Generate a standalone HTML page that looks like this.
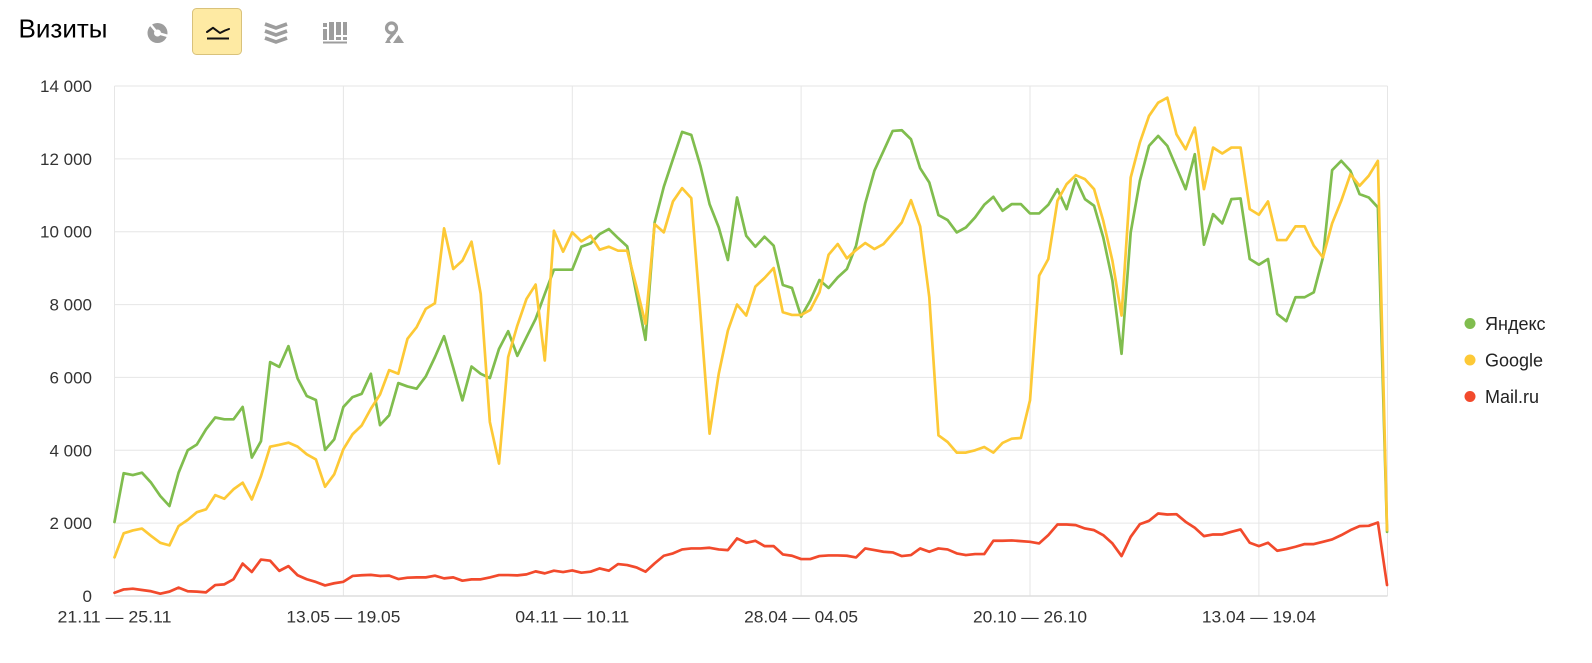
<!DOCTYPE html>
<html>
<head>
<meta charset="utf-8">
<style>
  html, body { margin:0; padding:0; background:#fff; }
  body { width:1592px; height:663px; overflow:hidden; }
  svg { display:block; font-family:"Liberation Sans", "DejaVu Sans", sans-serif; }
</style>
</head>
<body>
<svg width="1592" height="663" viewBox="0 0 1592 663" xmlns="http://www.w3.org/2000/svg">
  <rect x="0" y="0" width="1592" height="663" fill="#fff"/>

  <!-- Title -->
  <text x="18.5" y="37.7" font-size="26" fill="#000" textLength="89" lengthAdjust="spacingAndGlyphs">Визиты</text>

  <!-- Icon: pie -->
  <g>
    <circle cx="157.5" cy="33" r="10" fill="#9d9d9d"/>
    <circle cx="157.5" cy="33" r="3.5" fill="#fff"/>
    <line x1="157.5" y1="33" x2="150" y2="24" stroke="#fff" stroke-width="2.5"/>
    <line x1="157.5" y1="33" x2="168" y2="36" stroke="#fff" stroke-width="2.5"/>
  </g>

  <!-- Icon: active line chart button -->
  <rect x="192.5" y="8.5" width="49" height="46" rx="4" ry="4" fill="#feeaa3" stroke="#d9c27b" stroke-width="1"/>
  <polyline points="207,32 213,27.8 220,33 225,30.5 229,29" fill="none" stroke="#111" stroke-width="2" stroke-linejoin="round" stroke-linecap="round"/>
  <line x1="207" y1="38.5" x2="229" y2="38.5" stroke="#111" stroke-width="2"/>

  <!-- Icon: stacked area -->
  <g fill="none" stroke="#9d9d9d" stroke-width="3.6" stroke-linejoin="miter">
    <polyline points="265,24 276,28 287,24"/>
    <polyline points="265,31 276,35 287,31"/>
    <polyline points="265,38 276,42 287,38"/>
  </g>

  <!-- Icon: bars -->
  <g fill="#9d9d9d">
    <rect x="323" y="23" width="4" height="4"/>
    <rect x="323" y="29" width="4" height="11"/>
    <rect x="329" y="22" width="5" height="18"/>
    <rect x="336" y="22" width="5" height="13"/>
    <rect x="336" y="37" width="5" height="3"/>
    <rect x="343" y="22" width="4" height="13"/>
    <rect x="343" y="37" width="4" height="3"/>
    <rect x="323" y="41.5" width="24" height="2"/>
  </g>

  <!-- Icon: map pin -->
  <g>
    <circle cx="391.5" cy="28" r="5" fill="none" stroke="#9d9d9d" stroke-width="3.2"/>
    <polyline points="395,32 388,40" fill="none" stroke="#9d9d9d" stroke-width="3.2"/>
    <polygon points="385,43 388,38 391,43" fill="#9d9d9d"/>
    <polygon points="393,43 398.5,35 404,43" fill="#9d9d9d"/>
  </g>

  <!-- Horizontal gridlines -->
  <g stroke="#e6e6e6" stroke-width="1">
    <line x1="114.5" y1="86" x2="1387.5" y2="86"/>
    <line x1="114.5" y1="158.86" x2="1387.5" y2="158.86"/>
    <line x1="114.5" y1="231.71" x2="1387.5" y2="231.71"/>
    <line x1="114.5" y1="304.57" x2="1387.5" y2="304.57"/>
    <line x1="114.5" y1="377.43" x2="1387.5" y2="377.43"/>
    <line x1="114.5" y1="450.29" x2="1387.5" y2="450.29"/>
    <line x1="114.5" y1="523.14" x2="1387.5" y2="523.14"/>
  </g>
  <!-- Vertical gridlines -->
  <g stroke="#e6e6e6" stroke-width="1">
    <line x1="114.5" y1="86" x2="114.5" y2="596"/>
    <line x1="343.4" y1="86" x2="343.4" y2="596"/>
    <line x1="572.3" y1="86" x2="572.3" y2="596"/>
    <line x1="801.1" y1="86" x2="801.1" y2="596"/>
    <line x1="1030" y1="86" x2="1030" y2="596"/>
    <line x1="1258.9" y1="86" x2="1258.9" y2="596"/>
    <line x1="1387.5" y1="86" x2="1387.5" y2="596"/>
  </g>
  <line x1="114.5" y1="596" x2="1387.5" y2="596" stroke="#dedede" stroke-width="1.6"/>

  <!-- Y labels -->
  <g font-size="17" fill="#333" text-anchor="end">
    <text x="92" y="92">14 000</text>
    <text x="92" y="164.9">12 000</text>
    <text x="92" y="237.7">10 000</text>
    <text x="92" y="310.6">8 000</text>
    <text x="92" y="383.4">6 000</text>
    <text x="92" y="456.3">4 000</text>
    <text x="92" y="529.1">2 000</text>
    <text x="92" y="602">0</text>
  </g>

  <!-- X labels -->
  <g font-size="17" fill="#333" text-anchor="middle">
    <text x="114.5" y="622.5" textLength="114" lengthAdjust="spacingAndGlyphs">21.11 — 25.11</text>
    <text x="343.4" y="622.5" textLength="114" lengthAdjust="spacingAndGlyphs">13.05 — 19.05</text>
    <text x="572.3" y="622.5" textLength="114" lengthAdjust="spacingAndGlyphs">04.11 — 10.11</text>
    <text x="801.1" y="622.5" textLength="114" lengthAdjust="spacingAndGlyphs">28.04 — 04.05</text>
    <text x="1030" y="622.5" textLength="114" lengthAdjust="spacingAndGlyphs">20.10 — 26.10</text>
    <text x="1258.9" y="622.5" textLength="114" lengthAdjust="spacingAndGlyphs">13.04 — 19.04</text>
  </g>

  <!-- Series -->
  <g transform="translate(114.5,596) scale(9.155,-0.0364286)" fill="none" stroke-linejoin="round" stroke-linecap="round">
    <polyline vector-effect="non-scaling-stroke" stroke="#80bd4e" stroke-width="2.7"
      points="0,2030 1,3370 2,3320 3,3385 4,3110 5,2745 6,2470 7,3385 8,4000 9,4160 10,4575 11,4900 12,4850 13,4850 14,5190 15,3800 16,4250 17,6420 18,6290 19,6860 20,5970 21,5490 22,5380 23,4010 24,4300 25,5190 26,5460 27,5550 28,6100 29,4690 30,4960 31,5845 32,5753 33,5690 34,6027 35,6557 36,7132 37,6265 38,5370 39,6300 40,6100 41,5982 42,6785 43,7269 44,6593 45,7105 46,7607 47,8292 48,8958 49,8958 50,8958 51,9589 52,9680 53,9936 54,10073 55,9826 56,9598 57,8300 58,7032 59,10255 60,11232 61,11990 62,12739 63,12657 64,11808 65,10758 66,10118 67,9223 68,10940 69,9890 70,9589 71,9863 72,9616 73,8538 74,8456 75,7671 76,8109 77,8675 78,8456 79,8748 80,8977 81,9616 82,10776 83,11671 84,12219 85,12767 86,12785 87,12538 88,11744 89,11351 90,10456 91,10319 92,9981 93,10118 94,10392 95,10739 96,10958 97,10575 98,10758 99,10758 100,10502 101,10502 102,10739 103,11168 104,10620 105,11442 106,10895 107,10712 108,9844 109,8657 110,6648 111,9981 112,11397 113,12356 114,12630 115,12356 116,11762 117,11168 118,12127 119,9643 120,10483 121,10228 122,10894 123,10913 124,9251 125,9095 126,9251 127,7744 128,7543 129,8201 130,8201 131,8338 132,9296 133,11689 134,11945 135,11671 136,11032 137,10940 138,10666 139,1762"/>
    <polyline vector-effect="non-scaling-stroke" stroke="#fdc936" stroke-width="2.7"
      points="0,1060 1,1720 2,1800 3,1850 4,1650 5,1460 6,1390 7,1920 8,2090 9,2300 10,2380 11,2770 12,2670 13,2930 14,3110 15,2650 16,3290 17,4100 18,4150 19,4210 20,4100 21,3890 22,3750 23,3000 24,3340 25,4030 26,4440 27,4680 28,5140 29,5530 30,6200 31,6100 32,7059 33,7379 34,7881 35,8036 36,10091 37,8977 38,9205 39,9726 40,8292 41,4776 42,3635 43,6557 44,7424 45,8155 46,8548 47,6465 48,10027 49,9452 50,9982 51,9735 52,9890 53,9506 54,9589 55,9479 56,9479 57,8500 58,7470 59,10210 60,9982 61,10831 62,11196 63,10922 64,7744 65,4456 66,6100 67,7287 68,8000 69,7698 70,8493 71,8730 72,9004 73,7789 74,7716 75,7716 76,7854 77,8338 78,9369 79,9662 80,9269 81,9497 82,9689 83,9525 84,9662 85,9954 86,10256 87,10867 88,10146 89,8201 90,4411 91,4228 92,3936 93,3936 94,4000 95,4091 96,3936 97,4201 98,4319 99,4338 100,5370 101,8794 102,9251 103,10849 104,11306 105,11552 106,11443 107,11168 108,10301 109,9205 110,7698 111,11488 112,12447 113,13178 114,13543 115,13680 116,12675 117,12264 118,12858 119,11168 120,12310 121,12146 122,12310 123,12310 124,10620 125,10465 126,10831 127,9771 128,9771 129,10146 130,10146 131,9616 132,9296 133,10228 134,10849 135,11580 136,11260 137,11534 138,11945 139,1808"/>
    <polyline vector-effect="non-scaling-stroke" stroke="#f24a2c" stroke-width="2.7"
      points="0,90 1,180 2,200 3,165 4,130 5,65 6,120 7,230 8,130 9,120 10,100 11,300 12,320 13,460 14,890 15,660 16,1000 17,970 18,690 19,820 20,570 21,460 22,385 23,290 24,350 25,390 26,550 27,570 28,580 29,550 30,560 31,466 32,502 33,511 34,511 35,557 36,484 37,511 38,420 39,457 40,457 41,511 42,575 43,575 44,566 45,594 46,676 47,621 48,694 49,657 50,703 51,640 52,667 53,758 54,694 55,877 56,849 57,785 58,667 59,895 60,1105 61,1169 62,1278 63,1306 64,1306 65,1324 66,1278 67,1260 68,1580 69,1461 70,1516 71,1370 72,1370 73,1142 74,1105 75,1014 76,1014 77,1096 78,1114 79,1114 80,1105 81,1059 82,1306 83,1260 84,1215 85,1196 86,1096 87,1123 88,1306 89,1215 90,1306 91,1278 92,1169 93,1123 94,1151 95,1151 96,1516 97,1516 98,1525 99,1507 100,1488 101,1443 102,1671 103,1963 104,1963 105,1945 106,1854 107,1808 108,1671 109,1443 110,1096 111,1625 112,1972 113,2064 114,2265 115,2237 116,2246 117,2036 118,1872 119,1644 120,1689 121,1689 122,1762 123,1826 124,1461 125,1370 126,1461 127,1242 128,1288 129,1352 130,1425 131,1425 132,1488 133,1552 134,1671 135,1808 136,1918 137,1927 138,2018 139,301"/>
  </g>

  <!-- Legend -->
  <g font-size="18" fill="#222">
    <circle cx="1470" cy="323.5" r="5.5" fill="#80bd4e"/>
    <text x="1485" y="330">Яндекс</text>
    <circle cx="1470" cy="360" r="5.5" fill="#fdc936"/>
    <text x="1485" y="366.5">Google</text>
    <circle cx="1470" cy="396.5" r="5.5" fill="#f24a2c"/>
    <text x="1485" y="403">Mail.ru</text>
  </g>
</svg>
</body>
</html>
